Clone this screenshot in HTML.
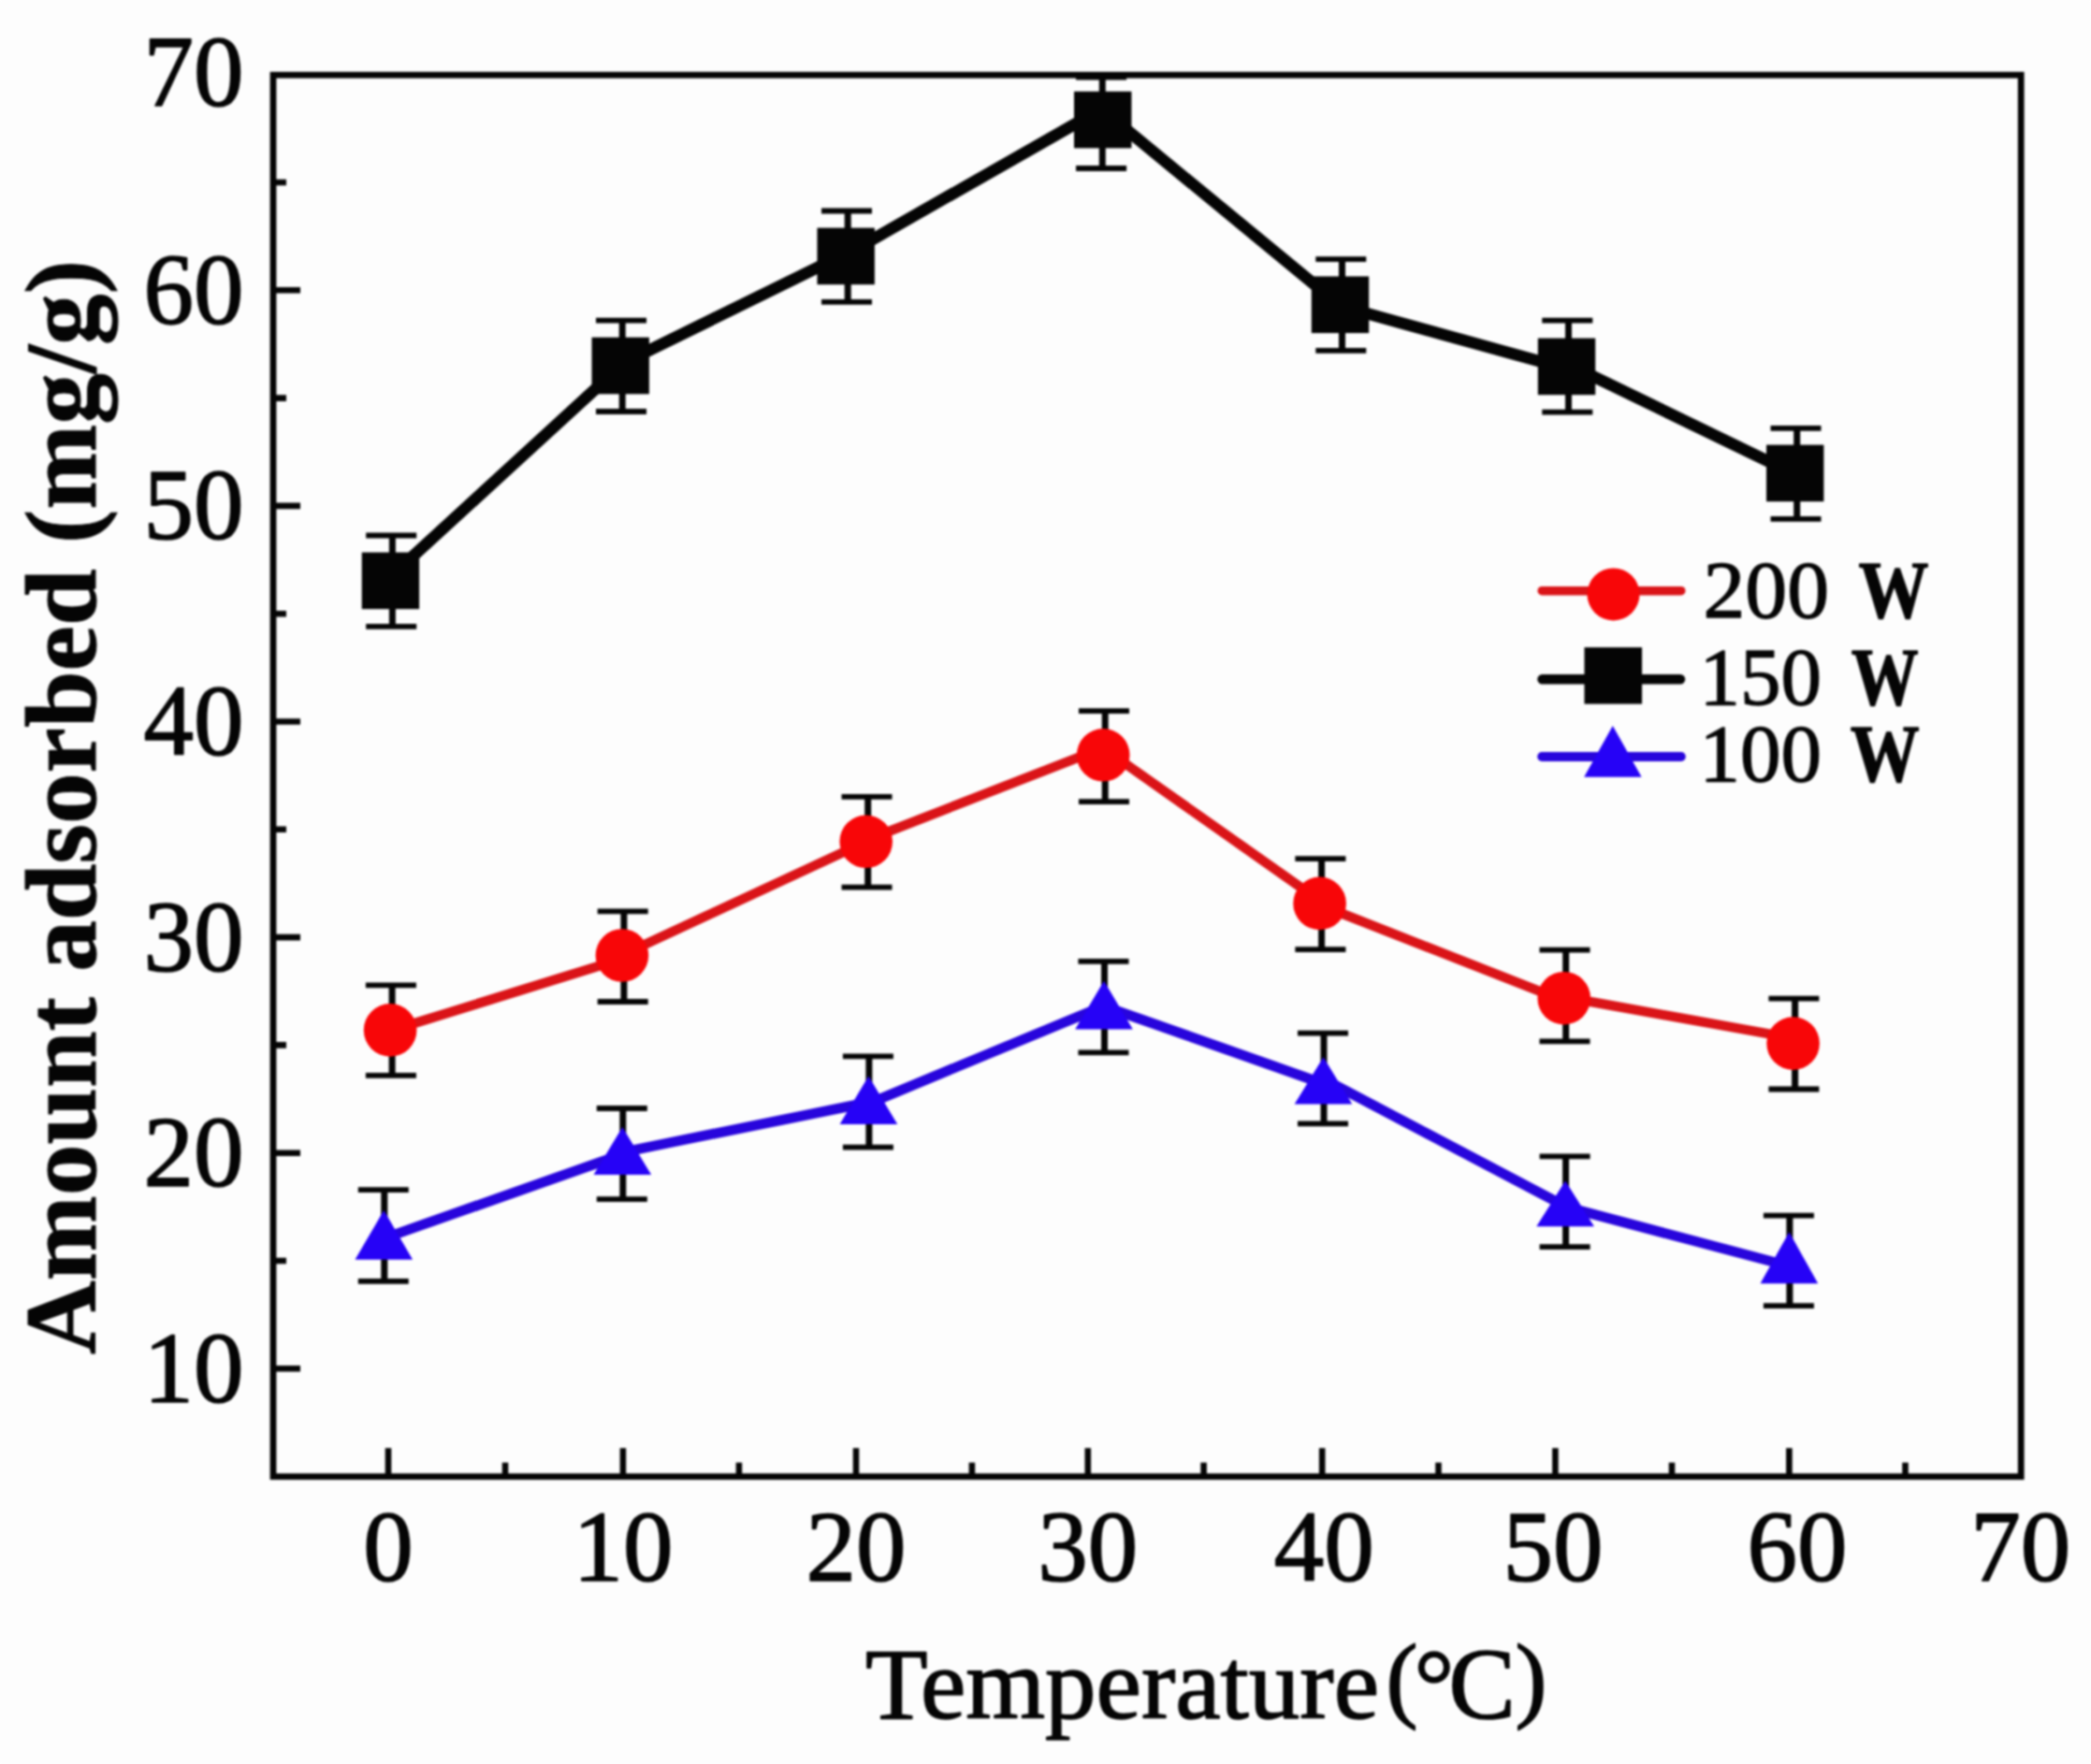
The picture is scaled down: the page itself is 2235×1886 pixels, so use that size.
<!DOCTYPE html>
<html lang="en"><head><meta charset="utf-8"><title>Amount adsorbed vs Temperature</title>
<style>
html,body{margin:0;padding:0;background:#fdfdfd;}
body{width:2235px;height:1886px;overflow:hidden;}
svg{display:block;filter:blur(0.8px);}
</style></head>
<body>
<svg width="2235" height="1886" viewBox="0 0 2235 1886">
<rect width="2235" height="1886" fill="#fdfdfd"/>
<g id="axes">
<rect x="292.0" y="80.2" width="1868.2" height="1498.5" fill="none" stroke="#050505" stroke-width="6.8"/>
<path d="M415.0 1578.7V1548.2M665.9 1578.7V1548.2M915.0 1578.7V1548.2M1162.8 1578.7V1548.2M1413.2 1578.7V1548.2M1662.4 1578.7V1548.2M1912.4 1578.7V1548.2M540.0 1578.7V1563.7M789.9 1578.7V1563.7M1038.9 1578.7V1563.7M1286.6 1578.7V1563.7M1537.5 1578.7V1563.7M1787.0 1578.7V1563.7M2036.5 1578.7V1563.7M292.0 1463.3H321.0M292.0 1232.7H321.0M292.0 1002.1H321.0M292.0 771.5H321.0M292.0 540.9H321.0M292.0 310.3H321.0M292.0 1348.0H306.0M292.0 1117.4H306.0M292.0 886.8H306.0M292.0 656.2H306.0M292.0 425.6H306.0M292.0 195.0H306.0" stroke="#050505" stroke-width="6.6" fill="none"/>
</g>
<g id="ticklabels" font-family="'Liberation Serif', serif" font-size="107" fill="#050505" stroke="#050505" stroke-width="1.6" stroke-linejoin="round">
<text x="415.0" y="1690.3" text-anchor="middle">0</text>
<text x="665.9" y="1690.3" text-anchor="middle">10</text>
<text x="915.0" y="1690.3" text-anchor="middle">20</text>
<text x="1162.8" y="1690.3" text-anchor="middle">30</text>
<text x="1415.2" y="1690.3" text-anchor="middle">40</text>
<text x="1659.9" y="1690.3" text-anchor="middle">50</text>
<text x="1921.0" y="1690.3" text-anchor="middle">60</text>
<text x="2159.7" y="1690.3" text-anchor="middle">70</text>
<text x="260.5" y="1498.8" text-anchor="end">10</text>
<text x="260.5" y="1268.2" text-anchor="end">20</text>
<text x="260.5" y="1037.6" text-anchor="end">30</text>
<text x="260.5" y="807.0" text-anchor="end">40</text>
<text x="260.5" y="576.4" text-anchor="end">50</text>
<text x="260.5" y="345.8" text-anchor="end">60</text>
<text x="260.5" y="113.2" text-anchor="end">70</text>
</g>
<g id="xtitle" font-family="'Liberation Serif', serif" font-size="107" fill="#050505" stroke="#050505" stroke-width="1.6" stroke-linejoin="round">
<text y="1837"><tspan x="925" textLength="549" lengthAdjust="spacingAndGlyphs">Temperature</tspan><tspan x="1481.5" y="1828" font-size="102">(</tspan><tspan x="1511.5" y="1838">°</tspan><tspan x="1548.5" y="1837">C</tspan><tspan x="1619.5" y="1828" font-size="102">)</tspan></text>
</g>
<text id="ytitle" transform="translate(101.5 1448) rotate(-90)" font-family="'Liberation Serif', serif" font-weight="bold" font-size="107" fill="#050505" stroke="#050505" stroke-width="1" textLength="1170" lengthAdjust="spacingAndGlyphs">Amount adsorbed (mg/g)</text>
<g id="s150">
<path d="M419.4 572.5V669.8" stroke="#050505" stroke-width="7"/>
<path d="M391.2 572.5H445.2M391.2 669.8H445.2" stroke="#050505" stroke-width="5.8"/>
<path d="M665.2 342.6V440.0" stroke="#050505" stroke-width="7"/>
<path d="M637.0 342.6H691.0M637.0 440.0H691.0" stroke="#050505" stroke-width="5.8"/>
<path d="M906.2 225.5V322.8" stroke="#050505" stroke-width="7"/>
<path d="M878.0 225.5H932.0M878.0 322.8H932.0" stroke="#050505" stroke-width="5.8"/>
<path d="M1178.3 82.5V180.0" stroke="#050505" stroke-width="7"/>
<path d="M1150.1 82.5H1204.1M1150.1 180.0H1204.1" stroke="#050505" stroke-width="5.8"/>
<path d="M1434.5 277.2V374.9" stroke="#050505" stroke-width="7"/>
<path d="M1406.3 277.2H1460.3M1406.3 374.9H1460.3" stroke="#050505" stroke-width="5.8"/>
<path d="M1676.5 342.7V440.6" stroke="#050505" stroke-width="7"/>
<path d="M1648.3 342.7H1702.3M1648.3 440.6H1702.3" stroke="#050505" stroke-width="5.8"/>
<path d="M1920.7 457.8V554.9" stroke="#050505" stroke-width="7"/>
<path d="M1892.5 457.8H1946.5M1892.5 554.9H1946.5" stroke="#050505" stroke-width="5.8"/>
<path d="M417.4 616.7L663.2 391.3M663.2 389.7L904.2 271.1M904.2 272.2L1178.7 115.7M1178.7 117.7L1432.5 326.8M1432.5 327.2L1674.5 394.2M1674.5 388.7L1918.7 507.1" fill="none" stroke="#050505" stroke-width="12.6" stroke-linecap="round"/>
<rect x="386.7" y="590.6" width="61.4" height="60.6" fill="#050505"/>
<rect x="632.5" y="360.7" width="61.4" height="60.6" fill="#050505"/>
<rect x="873.5" y="243.6" width="61.4" height="60.6" fill="#050505"/>
<rect x="1148.0" y="97.8" width="61.4" height="60.6" fill="#050505"/>
<rect x="1401.8" y="295.5" width="61.4" height="60.6" fill="#050505"/>
<rect x="1643.8" y="361.6" width="61.4" height="60.6" fill="#050505"/>
<rect x="1888.0" y="475.6" width="61.4" height="60.6" fill="#050505"/>
</g>
<g id="s200">
<path d="M419.1 1053.3V1149.8" stroke="#050505" stroke-width="7"/>
<path d="M390.9 1053.3H444.9M390.9 1149.8H444.9" stroke="#050505" stroke-width="5.8"/>
<path d="M666.9 974.4V1071.0" stroke="#050505" stroke-width="7"/>
<path d="M638.7 974.4H692.7M638.7 1071.0H692.7" stroke="#050505" stroke-width="5.8"/>
<path d="M927.7 851.8V948.7" stroke="#050505" stroke-width="7"/>
<path d="M899.5 851.8H953.5M899.5 948.7H953.5" stroke="#050505" stroke-width="5.8"/>
<path d="M1181.2 760.1V857.2" stroke="#050505" stroke-width="7"/>
<path d="M1153.0 760.1H1207.0M1153.0 857.2H1207.0" stroke="#050505" stroke-width="5.8"/>
<path d="M1412.6 918.2V1015.1" stroke="#050505" stroke-width="7"/>
<path d="M1384.4 918.2H1438.4M1384.4 1015.1H1438.4" stroke="#050505" stroke-width="5.8"/>
<path d="M1673.7 1015.6V1113.3" stroke="#050505" stroke-width="7"/>
<path d="M1645.5 1015.6H1699.5M1645.5 1113.3H1699.5" stroke="#050505" stroke-width="5.8"/>
<path d="M1918.6 1067.6V1164.5" stroke="#050505" stroke-width="7"/>
<path d="M1890.4 1067.6H1944.4M1890.4 1164.5H1944.4" stroke="#050505" stroke-width="5.8"/>
<path d="M417.1 1102.0L664.9 1025.2M664.9 1021.1L925.7 899.8M925.7 898.4L1179.2 799.5M1179.2 799.9L1410.6 963.0M1410.6 967.4L1671.7 1070.0M1671.7 1065.9L1916.6 1110.0" fill="none" stroke="#da1418" stroke-width="10.3" stroke-linecap="round"/>
<circle cx="417.1" cy="1101.4" r="28.3" fill="#f80608"/>
<circle cx="664.9" cy="1021.5" r="28.3" fill="#f80608"/>
<circle cx="925.7" cy="899.8" r="28.3" fill="#f80608"/>
<circle cx="1179.2" cy="807.3" r="28.3" fill="#f80608"/>
<circle cx="1410.6" cy="965.9" r="28.3" fill="#f80608"/>
<circle cx="1671.7" cy="1067.2" r="28.3" fill="#f80608"/>
<circle cx="1916.6" cy="1115.6" r="28.3" fill="#f80608"/>
</g>
<g id="s100">
<path d="M410.8 1272.1V1369.8" stroke="#050505" stroke-width="7"/>
<path d="M382.8 1272.1H436.8M382.8 1369.8H436.8" stroke="#050505" stroke-width="5.8"/>
<path d="M665.8 1185.0V1282.1" stroke="#050505" stroke-width="7"/>
<path d="M637.8 1185.0H691.8M637.8 1282.1H691.8" stroke="#050505" stroke-width="5.8"/>
<path d="M928.9 1129.4V1226.7" stroke="#050505" stroke-width="7"/>
<path d="M900.9 1129.4H954.9M900.9 1226.7H954.9" stroke="#050505" stroke-width="5.8"/>
<path d="M1180.5 1027.8V1125.4" stroke="#050505" stroke-width="7"/>
<path d="M1152.5 1027.8H1206.5M1152.5 1125.4H1206.5" stroke="#050505" stroke-width="5.8"/>
<path d="M1415.0 1104.7V1201.3" stroke="#050505" stroke-width="7"/>
<path d="M1387.0 1104.7H1441.0M1387.0 1201.3H1441.0" stroke="#050505" stroke-width="5.8"/>
<path d="M1673.6 1236.3V1333.2" stroke="#050505" stroke-width="7"/>
<path d="M1645.6 1236.3H1699.6M1645.6 1333.2H1699.6" stroke="#050505" stroke-width="5.8"/>
<path d="M1912.9 1299.6V1396.2" stroke="#050505" stroke-width="7"/>
<path d="M1884.9 1299.6H1938.9M1884.9 1396.2H1938.9" stroke="#050505" stroke-width="5.8"/>
<path d="M410.3 1324.0L665.3 1234.2M665.3 1232.0L928.4 1178.6M928.4 1179.9L1180.0 1075.4M1180.0 1075.8L1414.5 1158.6M1414.5 1153.5L1673.1 1289.8M1673.1 1290.3L1912.4 1353.6" fill="none" stroke="#2805dc" stroke-width="10.8" stroke-linecap="round"/>
<path d="M410.3 1293.9L441.1 1346.7H379.5Z" fill="#2602f6"/>
<path d="M665.3 1205.1L696.1 1256.1H634.5Z" fill="#2602f6"/>
<path d="M928.4 1150.6L959.2 1202.1H897.6Z" fill="#2602f6"/>
<path d="M1180.0 1048.7L1210.8 1100.5H1149.2Z" fill="#2602f6"/>
<path d="M1414.5 1130.3L1445.3 1180.6H1383.7Z" fill="#2602f6"/>
<path d="M1673.1 1262.5L1703.9 1311.3H1642.3Z" fill="#2602f6"/>
<path d="M1912.4 1317.3L1943.2 1372.3H1881.6Z" fill="#2602f6"/>
</g>
<g id="legend">
<path d="M1648.2 631.7H1796.8" stroke="#da1418" stroke-width="9.5" stroke-linecap="round"/>
<circle cx="1724.5" cy="635.4" r="28" fill="#f80608"/>
<path d="M1648.5 726.2H1796" stroke="#050505" stroke-width="10.5" stroke-linecap="round"/>
<rect x="1693.5" y="692.1" width="61.6" height="60.5" fill="#050505"/>
<path d="M1648.2 809H1796.8" stroke="#2805dc" stroke-width="10" stroke-linecap="round"/>
<path d="M1723.8 776L1754.6 830.7H1693.2Z" fill="#2602f6"/>
<g font-family="'Liberation Serif', serif" font-size="87" fill="#050505" stroke="#050505" stroke-width="1.3" stroke-linejoin="round">
<text y="660.3"><tspan x="1820.5" textLength="134.5" lengthAdjust="spacingAndGlyphs">200</tspan> <tspan x="1986.5" font-weight="bold" textLength="75" lengthAdjust="spacingAndGlyphs">W</tspan></text>
<text y="752.7"><tspan x="1816.5">150</tspan> <tspan x="1978.8" font-weight="bold" textLength="72" lengthAdjust="spacingAndGlyphs">W</tspan></text>
<text y="835.2"><tspan x="1816.5">100</tspan> <tspan x="1977.8" font-weight="bold" textLength="74" lengthAdjust="spacingAndGlyphs">W</tspan></text>
</g></g>
</svg>
</body></html>
